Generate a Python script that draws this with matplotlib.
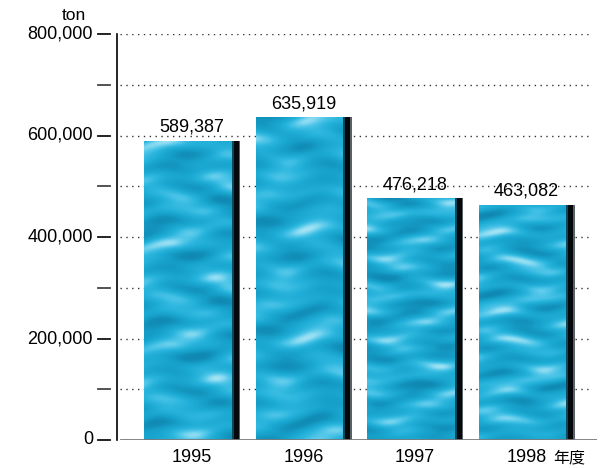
import numpy as np
import matplotlib
matplotlib.use('Agg')
import matplotlib.pyplot as plt
import matplotlib.transforms as mtransforms
from matplotlib.colors import LinearSegmentedColormap

plt.rcParams['font.family'] = ['Liberation Sans', 'Noto Sans CJK JP', 'DejaVu Sans']

years = ['1995', '1996', '1997', '1998']
values = [589387, 635919, 476218, 463082]
value_labels = ['589,387', '635,919', '476,218', '463,082']
ytick_vals = [0, 200000, 400000, 600000, 800000]
ytick_labels = ['0', '200,000', '400,000', '600,000', '800,000']
minor_vals = [100000, 300000, 500000, 700000]

fig = plt.figure(figsize=(6.1, 4.68), dpi=100)
ax = fig.add_axes([117 / 610, 1 - 440 / 468, 480 / 610, 406 / 468])

ax.set_xlim(-0.673, 3.632)
ax.set_ylim(0, 800000)

# water texture (deterministic, sine based)
water = LinearSegmentedColormap.from_list(
    'water', ['#0f88b2', '#169fc8', '#1caad3', '#2cb6de', '#55c8ea', '#a5e4f5'])


def texture(seed):
    yy, xx = np.mgrid[0:300, 0:100]
    ph = seed * 1.7
    t = (np.sin(xx * 0.07 + 2.5 * np.sin(yy * 0.06 + ph) + ph)
         + 0.7 * np.sin(yy * 0.19 + 1.8 * np.sin(xx * 0.04 - ph))
         + 0.5 * np.sin(xx * 0.03 + yy * 0.13 + 3 * ph)
         + 0.4 * np.sin(yy * 0.37 + xx * 0.015 + np.sin(xx * 0.09 + ph)))
    t = (t - t.min()) / (t.max() - t.min())
    t = t ** 1.3
    return t


bar_w = 0.861
edge_w = 0.056
bars = ax.bar(range(len(years)), values, bar_w, facecolor='none',
              edgecolor='none', zorder=3)
for i, (b, v) in enumerate(zip(bars, values)):
    x0 = b.get_x()
    im = ax.imshow(texture(i), cmap=water, aspect='auto', zorder=3,
                   extent=[x0, x0 + bar_w, 0, v], interpolation='bicubic')
    im.set_clip_path(b)
ax.bar([i + bar_w / 2 - edge_w / 2 for i in range(len(years))], values,
       edge_w, color='#06090b', zorder=4)
ax.bar([i + bar_w / 2 - edge_w - 0.008 for i in range(len(years))], values,
       0.018, color='#0b4a5e', zorder=4)
ax.bar([i + bar_w / 2 - 0.006 for i in range(len(years))], values,
       0.012, color='#5a6266', zorder=4)

trans = mtransforms.blended_transform_factory(ax.transAxes, ax.transData)

# dotted grid
for g in range(100000, 800001, 100000):
    ax.plot([0.007, 0.99], [g, g], transform=trans, ls=(0, (1, 3.2)),
            color='#333333', lw=1, zorder=1)

for sp in ['top', 'right', 'bottom']:
    ax.spines[sp].set_visible(False)
ax.spines['left'].set_linewidth(1.2)
ax.axhline(0, xmin=0.008, xmax=1.0, color='#7a7a7a', lw=2, zorder=5)

ax.set_yticks([])
ax.set_xticks([])

for i, yr in enumerate(years):
    ax.text(i, -44000, yr, ha='center', va='baseline', fontsize=13)
ax.text(3.385, -44000, '年度', ha='center', va='baseline', fontsize=11.5,
        family=['Noto Sans CJK JP', 'DejaVu Sans'])

for v, lab in zip(ytick_vals, ytick_labels):
    ax.plot([-0.040, -0.015], [v, v], transform=trans, color='#111111',
            lw=1.3, clip_on=False)
    ax.text(-0.05, v, lab, transform=trans, ha='right', va='center',
            fontsize=13)
for v in minor_vals:
    ax.plot([-0.040, -0.015], [v, v], transform=trans, color='#444444',
            lw=1.3, clip_on=False)

ax.text(-0.09, 828000, 'ton', transform=trans, ha='center', va='baseline',
        fontsize=12.5)

for i, (v, lab) in enumerate(zip(values, value_labels)):
    ax.text(i, v + 10000, lab, ha='center', va='bottom', fontsize=13,
            zorder=6)

fig.savefig('out.png', dpi=100)
